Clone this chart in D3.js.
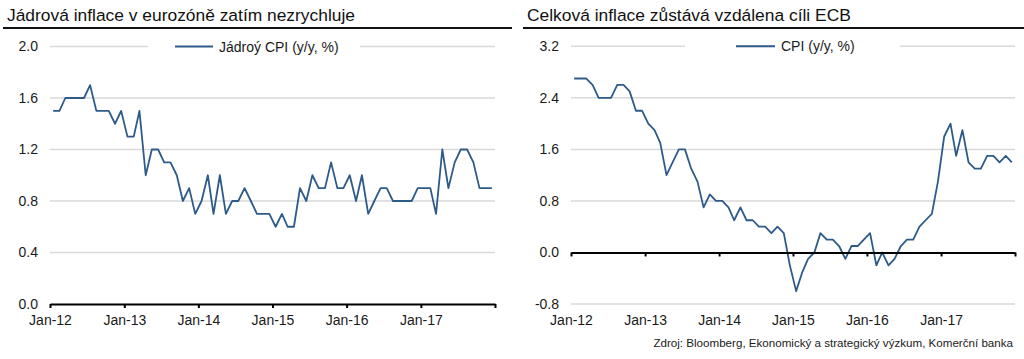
<!DOCTYPE html>
<html>
<head>
<meta charset="utf-8">
<script src="https://cdn.jsdelivr.net/npm/d3@7"></script>
<style>
  html, body { margin: 0; padding: 0; background: #fff; }
  svg { display: block; font-family: "Liberation Sans", Arial, sans-serif; }
</style>
</head>
<body>
<svg id="chart" width="1024" height="359"></svg>
<script>
// ---- data ----
const startMonth = new Date(2012, 0, 1);
const endMonth = new Date(2018, 0, 1);
const months = d3.timeMonth.range(startMonth, endMonth); // Jan-12 .. Dec-17

const coreCPI = [
  1.5,1.5,1.6,1.6,1.6,1.6,1.7,1.5,1.5,1.5,1.4,1.5,
  1.3,1.3,1.5,1.0,1.2,1.2,1.1,1.1,1.0,0.8,0.9,0.7,
  0.8,1.0,0.7,1.0,0.7,0.8,0.8,0.9,0.8,0.7,0.7,0.7,
  0.6,0.7,0.6,0.6,0.9,0.8,1.0,0.9,0.9,1.1,0.9,0.9,
  1.0,0.8,1.0,0.7,0.8,0.9,0.9,0.8,0.8,0.8,0.8,0.9,
  0.9,0.9,0.7,1.2,0.9,1.1,1.2,1.2,1.1,0.9,0.9,0.9
];
const headlineCPI = [
  2.7,2.7,2.7,2.6,2.4,2.4,2.4,2.6,2.6,2.5,2.2,2.2,
  2.0,1.9,1.7,1.2,1.4,1.6,1.6,1.3,1.1,0.7,0.9,0.8,
  0.8,0.7,0.5,0.7,0.5,0.5,0.4,0.4,0.3,0.4,0.3,-0.2,
  -0.6,-0.3,-0.1,0.0,0.3,0.2,0.2,0.1,-0.1,0.1,0.1,0.2,
  0.3,-0.2,0.0,-0.2,-0.1,0.1,0.2,0.2,0.4,0.5,0.6,1.1,
  1.8,2.0,1.5,1.9,1.4,1.3,1.3,1.5,1.5,1.4,1.5,1.4
];
const coreYTicks = [0.0, 0.4, 0.8, 1.2, 1.6, 2.0];
const headlineYTicks = [-0.8, 0.0, 0.8, 1.6, 2.4, 3.2];
const xTickDates = d3.timeYear.range(startMonth, d3.timeDay.offset(endMonth, 1)); // Jan-12..Jan-18
const xTickLabels = ["Jan-12", "Jan-13", "Jan-14", "Jan-15", "Jan-16", "Jan-17", ""];

const titles = ["Jádrová inflace v eurozóně zatím nezrychluje", "Celková inflace zůstává vzdálena cíli ECB"];
const legendLabels = ["Jádroý CPI (y/y, %)", "CPI (y/y, %)"];
const sourceText = "Zdroj: Bloomberg, Ekonomický a strategický výzkum, Komerční banka";

// ---- drawing ----
const svg = d3.select("#chart");
const LINE_COLOR = "#2e5a8a";
const GRID_COLOR = "#d9d9d9";
const TEXT_COLOR = "#1a1a1a";
const LABEL_SIZE = 14;
const fmtY = v => d3.format(".1f")(v).replace("\u2212", "-");

function drawPanel(opt) {
  const g = svg.append("g");
  // title
  g.append("text").attr("x", opt.titleX).attr("y", 21)
    .attr("font-size", 17.4).attr("fill", "#111").text(opt.title);
  g.append("line").attr("x1", opt.ruleX1).attr("x2", opt.ruleX2)
    .attr("y1", 28).attr("y2", 28).attr("stroke", "#111").attr("stroke-width", 2);

  const x = d3.scaleTime().domain([startMonth, endMonth]).range([opt.x0, opt.x1]);
  const y = d3.scaleLinear().domain(opt.yDomain).range([opt.yBottom, opt.yTop]);
  const halfMonth = (x(new Date(2012, 1, 1)) - x(startMonth)) / 2;

  // gridlines
  g.append("g").selectAll("line").data(opt.yTicks.filter(v => v !== 0)).join("line")
    .attr("x1", opt.x0).attr("x2", opt.x1)
    .attr("y1", d => y(d)).attr("y2", d => y(d))
    .attr("stroke", GRID_COLOR).attr("stroke-width", 1.5);

  // y axis labels
  const yAxis = g.append("g").attr("transform", `translate(${opt.x0 - 12},0)`)
    .call(d3.axisLeft(y).tickValues(opt.yTicks).tickFormat(fmtY).tickSize(0).tickPadding(0));
  yAxis.select(".domain").remove();
  yAxis.selectAll("text").attr("font-size", LABEL_SIZE).attr("fill", TEXT_COLOR)
    .attr("font-family", '"Liberation Sans", Arial, sans-serif');

  // legend (covers top gridline)
  const ly = y(opt.yTicks[opt.yTicks.length - 1]);
  g.append("rect").attr("x", opt.legendGap[0]).attr("y", ly - 8)
    .attr("width", opt.legendGap[1] - opt.legendGap[0]).attr("height", 16).attr("fill", "#fff");
  g.append("line").attr("x1", opt.legendLine[0]).attr("x2", opt.legendLine[1])
    .attr("y1", ly).attr("y2", ly).attr("stroke", LINE_COLOR).attr("stroke-width", 2);
  g.append("text").attr("x", opt.legendLine[1] + 6).attr("y", ly + 5)
    .attr("font-size", LABEL_SIZE).attr("fill", TEXT_COLOR).text(opt.legend);

  // series line
  const line = d3.line().x((d, i) => x(months[i]) + halfMonth).y(d => y(d));
  g.append("path").datum(opt.values).attr("d", line)
    .attr("fill", "none").attr("stroke", LINE_COLOR).attr("stroke-width", 1.8)
    .attr("stroke-linejoin", "round");

  // zero axis with ticks
  const zeroAxis = g.append("g").attr("transform", `translate(0,${y(0)})`)
    .call(d3.axisBottom(x).tickValues(xTickDates).tickFormat("").tickSize(4).tickSizeOuter(0));
  zeroAxis.select(".domain").attr("stroke", "#000").attr("stroke-width", 2);
  zeroAxis.selectAll(".tick line").attr("stroke", "#000").attr("stroke-width", 2);

  // x labels at bottom
  const labAxis = g.append("g").attr("transform", `translate(0,${opt.yBottomLabel})`)
    .call(d3.axisBottom(x).tickValues(xTickDates).tickFormat((d, i) => xTickLabels[i]).tickSize(0).tickPadding(0));
  labAxis.select(".domain").remove();
  labAxis.selectAll("text").attr("font-size", LABEL_SIZE).attr("fill", TEXT_COLOR)
    .attr("font-family", '"Liberation Sans", Arial, sans-serif');
}

drawPanel({
  title: titles[0], titleX: 7, ruleX1: 3, ruleX2: 512,
  x0: 50, x1: 495, yDomain: [0, 2.0], yBottom: 304, yTop: 46.5,
  yTicks: coreYTicks, values: coreCPI, legend: legendLabels[0],
  legendGap: [148, 360], legendLine: [175, 213], yBottomLabel: 315
});
drawPanel({
  title: titles[1], titleX: 527, ruleX1: 523, ruleX2: 1024,
  x0: 571, x1: 1015, yDomain: [-0.8, 3.2], yBottom: 304, yTop: 46.3,
  yTicks: headlineYTicks, values: headlineCPI, legend: legendLabels[1],
  legendGap: [685, 900], legendLine: [736, 775], yBottomLabel: 315
});

svg.append("text").attr("x", 1013).attr("y", 347).attr("text-anchor", "end")
  .attr("font-size", 11.6).attr("fill", TEXT_COLOR).text(sourceText);
</script>
</body>
</html>
